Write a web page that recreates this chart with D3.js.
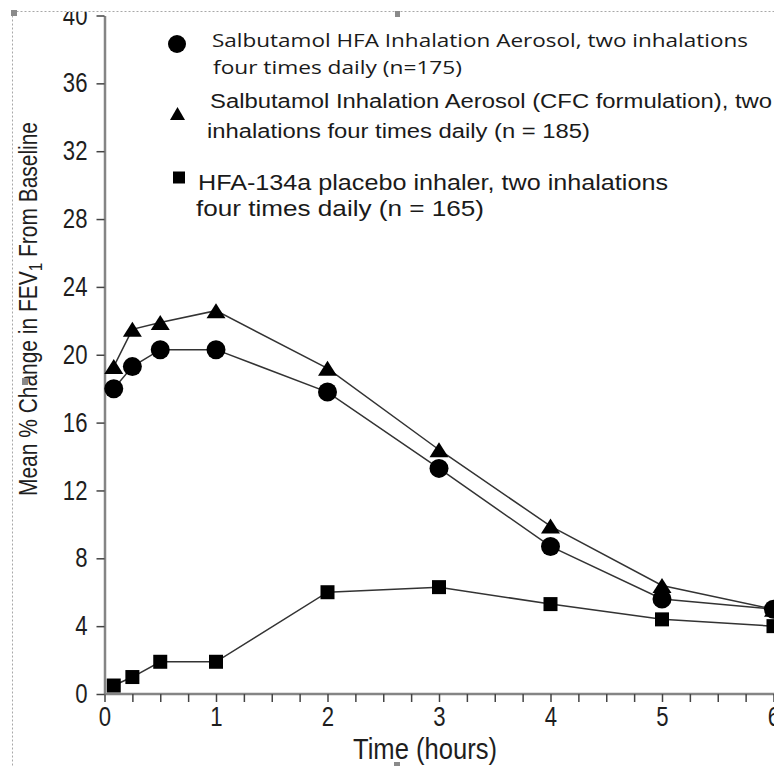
<!DOCTYPE html>
<html>
<head>
<meta charset="utf-8">
<script src="https://cdn.jsdelivr.net/npm/d3@7"></script>
<style>
  body { margin: 0; background: #fff; }
  .axis text { font-family: "Liberation Sans", Arial, sans-serif; font-size: 27px; fill: #1e1e1e; }
  .axis .domain { stroke: #858585; stroke-width: 2.5px; }
  .axis .tick line { stroke: #444; stroke-width: 1.5px; }
  .axis-title { font-family: "Liberation Sans", Arial, sans-serif; fill: #1e1e1e; }
  .legend-text { font-family: "Liberation Sans", Arial, sans-serif; fill: #1a1a1a; }
  .legend-text.first { font-family: "Open Sans", sans-serif; }
</style>
</head>
<body>
<div id="chart"></div>
<script>
//-----------------------------DATA-----------------------------//
const times = [0.083, 0.25, 0.5, 1, 2, 3, 4, 5, 6];
const hfaValues = [18.0, 19.3, 20.3, 20.3, 17.8, 13.3, 8.7, 5.6, 5.0];
const cfcValues = [19.3, 21.5, 21.9, 22.6, 19.2, 14.4, 9.9, 6.4, 5.0];
const placeboValues = [0.5, 1.0, 1.9, 1.9, 6.0, 6.3, 5.3, 4.4, 4.0];

const xTickValues = d3.range(0, 6.01, 0.25);
const yTickValues = [0, 4, 8, 12, 16, 20, 24, 28, 32, 36, 40];

const legendHfa = ["Salbutamol HFA Inhalation Aerosol, two inhalations", "four times daily (n=175)"];
const legendCfc = ["Salbutamol Inhalation Aerosol (CFC formulation), two", "inhalations four times daily (n = 185)"];
const legendPlacebo = ["HFA-134a placebo inhaler, two inhalations", "four times daily (n = 165)"];

//------------------------1. PREPARATION------------------------//
const width = 774;
const height = 766;
const narrow = 0.82; // the axis type is a condensed face

const svg = d3.select("#chart").append("svg")
  .attr("width", width)
  .attr("height", height);

svg.append("defs").append("clipPath")
  .attr("id", "frame")
  .append("rect")
  .attr("x", 0).attr("y", 12)
  .attr("width", width).attr("height", height - 12);

const g = svg.append("g").attr("clip-path", "url(#frame)");

// squeeze a text element horizontally
function condense(sel, factor) {
  sel.each(function () {
    const w = this.getComputedTextLength();
    if (w > 0) {
      d3.select(this)
        .attr("textLength", w * factor)
        .attr("lengthAdjust", "spacingAndGlyphs");
    }
  });
}

//----------------------------SCALES----------------------------//
const xScale = d3.scaleLinear().domain([0, 6]).range([104.5, 773.5]);
const yScale = d3.scaleLinear().domain([0, 40]).range([694, 15.5]);

//-----------------------------AXES-----------------------------//
const xaxis = d3.axisBottom(xScale)
  .tickValues(xTickValues)
  .tickFormat(d => Number.isInteger(d) ? d : "")
  .tickSizeInner(8)
  .tickSizeOuter(0)
  .tickPadding(5);

const yaxis = d3.axisLeft(yScale)
  .tickValues(yTickValues)
  .tickSizeInner(8)
  .tickSizeOuter(0)
  .tickPadding(9);

const xg = g.append("g")
  .attr("class", "axis")
  .attr("transform", "translate(0," + yScale(0) + ")")
  .call(xaxis);
xg.select(".domain").attr("d", "M" + xScale(0) + ",0H" + width);
condense(xg.selectAll(".tick text"), narrow);

const yg = g.append("g")
  .attr("class", "axis")
  .attr("transform", "translate(" + xScale(0) + ",0)")
  .call(yaxis);
condense(yg.selectAll(".tick text"), narrow);

g.append("text")
  .attr("class", "axis-title")
  .attr("x", 425)
  .attr("y", 759)
  .attr("text-anchor", "middle")
  .attr("textLength", 144)
  .attr("lengthAdjust", "spacingAndGlyphs")
  .style("font-size", "30px")
  .text("Time (hours)");

const yTitle = g.append("text")
  .attr("class", "axis-title")
  .attr("transform", "translate(37,309) rotate(-90)")
  .attr("text-anchor", "middle")
  .attr("textLength", 374)
  .attr("lengthAdjust", "spacingAndGlyphs")
  .style("font-size", "26px");
yTitle.append("tspan").text("Mean % Change in FEV");
yTitle.append("tspan").attr("dy", 5).style("font-size", "19px").text("1");
yTitle.append("tspan").attr("dy", -5).text(" From Baseline");

//----------------------------LINES-----------------------------//
const series = [
  { name: "placebo", values: placeboValues, marker: "square" },
  { name: "cfc", values: cfcValues, marker: "triangle" },
  { name: "hfa", values: hfaValues, marker: "circle" }
];

const line = d3.line()
  .x((d, i) => xScale(times[i]))
  .y(d => yScale(d));

g.selectAll(".series-line")
  .data(series)
  .enter()
  .append("path")
  .attr("class", "series-line")
  .attr("fill", "none")
  .attr("stroke", "#333")
  .attr("stroke-width", 1.5)
  .attr("d", d => line(d.values));

// marker shapes
const triPath = "M0,-7.5L9.5,7.5L-9.5,7.5Z";
function drawMarker(sel, kind, size) {
  if (kind === "circle") {
    sel.append("circle").attr("r", size.r).attr("fill", "#000");
  } else if (kind === "triangle") {
    sel.append("path").attr("d", size.tri).attr("fill", "#000");
  } else {
    sel.append("rect")
      .attr("x", -size.sq / 2).attr("y", -size.sq / 2)
      .attr("width", size.sq).attr("height", size.sq)
      .attr("fill", "#000");
  }
}

series.forEach(s => {
  g.selectAll(".m-" + s.name)
    .data(s.values)
    .enter()
    .append("g")
    .attr("class", "m-" + s.name)
    .attr("transform", (d, i) => "translate(" + xScale(times[i]) + "," + yScale(d) + ")")
    .each(function () {
      drawMarker(d3.select(this), s.marker, { r: 9.5, tri: triPath, sq: 14 });
    });
});

//----------------------------LEGEND----------------------------//
const legendRows = [
  { lines: legendHfa, marker: "circle", mx: 177, my: 44, cls: "first", size: 18,
    tx: [212, 213], ty: [47, 74], tw: [536, 249] },
  { lines: legendCfc, marker: "triangle", mx: 177.5, my: 113.5, cls: "", size: 20,
    tx: [210, 207], ty: [108, 138], tw: [562, 383] },
  { lines: legendPlacebo, marker: "square", mx: 179, my: 177.5, cls: "", size: 22,
    tx: [198, 196], ty: [189.5, 216], tw: [470, 288] }
];

legendRows.forEach(row => {
  const m = g.append("g").attr("transform", "translate(" + row.mx + "," + row.my + ")");
  drawMarker(m, row.marker, { r: 9, tri: "M0,-6.5L7.5,6.5L-7.5,6.5Z", sq: 12 });
  row.lines.forEach((t, i) => {
    g.append("text")
      .attr("class", "legend-text " + row.cls)
      .attr("x", row.tx[i])
      .attr("y", row.ty[i])
      .attr("textLength", row.tw[i])
      .attr("lengthAdjust", "spacingAndGlyphs")
      .style("font-size", row.size + "px")
      .text(t);
  });
});

//-------------------------FRAME MARKS--------------------------//
svg.append("path")
  .attr("d", "M12.5,11.5H" + width + "M12.5,11.5V" + height)
  .attr("fill", "none")
  .attr("stroke", "#a8a8a8")
  .attr("stroke-width", 1)
  .attr("stroke-dasharray", "2,2");

[[11, 10, 6, 6], [395, 11, 5, 6], [394, 762, 6, 4], [22, 378, 6, 7]].forEach(h => {
  svg.append("rect")
    .attr("x", h[0]).attr("y", h[1])
    .attr("width", h[2]).attr("height", h[3])
    .attr("fill", "#8a8a8a");
});
</script>
</body>
</html>
